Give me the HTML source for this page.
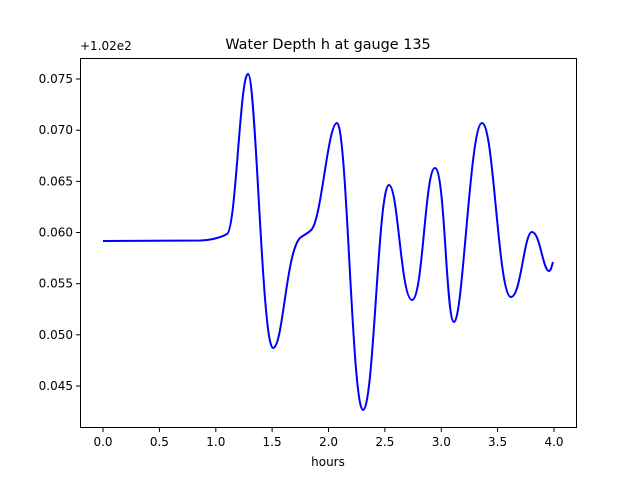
<!DOCTYPE html>
<html><head><style>
body{margin:0;background:#fff;}
svg{display:block;font-family:"DejaVu Sans","Liberation Sans",sans-serif;}
</style></head><body>
<svg width="640" height="480" viewBox="0 0 640 480">
<rect width="640" height="480" fill="#fff"/>
<text x="328" y="49" font-size="14.4" text-anchor="middle">Water Depth h at gauge 135</text>
<text x="80" y="50" font-size="12">+1.02e2</text>
<path d="M103,241 L200,240.5 C212,240 220,238 227,234 C236,230 240,74 248,74 C256,74 262,348 273,348 C283,348 286,252 300,238 C305,234 309,233 312,229 C322,215 328,123 337,123 C347,123 352,410 363,410 C374,410 378,185 389,185 C398,185 401,300 412,300 C423,300 425,168 435,168 C445,168 446,322 454,322 C463,322 470,123 482,123 C494,123 498,297 511,297 C521,297 524,232 532,232 C540,232 543,271 549,271 C551,271 552,265 553,262" fill="none" stroke="#0000ff" stroke-width="2"/>
<rect x="80.5" y="58.5" width="496" height="369" fill="none" stroke="#000" stroke-width="1"/>
<g stroke="#000" stroke-width="1">
<line x1="103" y1="428" x2="103" y2="432"/><line x1="159.4" y1="428" x2="159.4" y2="432"/>
<line x1="215.8" y1="428" x2="215.8" y2="432"/><line x1="272.1" y1="428" x2="272.1" y2="432"/>
<line x1="328.5" y1="428" x2="328.5" y2="432"/><line x1="384.9" y1="428" x2="384.9" y2="432"/>
<line x1="441.3" y1="428" x2="441.3" y2="432"/><line x1="497.6" y1="428" x2="497.6" y2="432"/>
<line x1="554" y1="428" x2="554" y2="432"/>
<line x1="76" y1="79" x2="80" y2="79"/><line x1="76" y1="130.2" x2="80" y2="130.2"/>
<line x1="76" y1="181.4" x2="80" y2="181.4"/><line x1="76" y1="232.5" x2="80" y2="232.5"/>
<line x1="76" y1="283.7" x2="80" y2="283.7"/><line x1="76" y1="334.8" x2="80" y2="334.8"/>
<line x1="76" y1="386" x2="80" y2="386"/>
</g>
<g font-size="12" text-anchor="middle">
<text x="103" y="446">0.0</text><text x="159.4" y="446">0.5</text><text x="215.8" y="446">1.0</text>
<text x="272.1" y="446">1.5</text><text x="328.5" y="446">2.0</text><text x="384.9" y="446">2.5</text>
<text x="441.3" y="446">3.0</text><text x="497.6" y="446">3.5</text><text x="554" y="446">4.0</text>
<text x="328" y="466">hours</text>
</g>
<g font-size="12" text-anchor="end">
<text x="73" y="83">0.075</text><text x="73" y="134.2">0.070</text><text x="73" y="185.4">0.065</text>
<text x="73" y="236.5">0.060</text><text x="73" y="287.7">0.055</text><text x="73" y="338.8">0.050</text>
<text x="73" y="390">0.045</text>
</g>
</svg>
</body></html>
